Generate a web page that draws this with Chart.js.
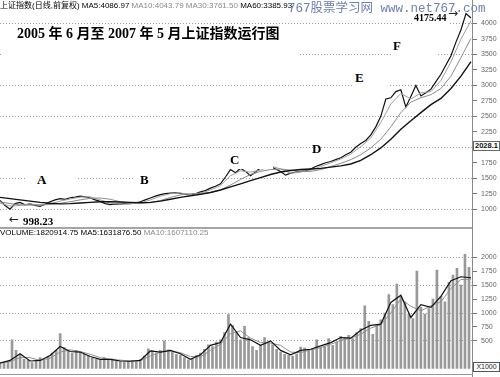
<!DOCTYPE html>
<html><head><meta charset="utf-8">
<script src="https://cdn.jsdelivr.net/npm/chart.js@4.4.0/dist/chart.umd.min.js"></script>
<style>
html,body{margin:0;padding:0;background:#fff;}
#wrap{position:relative;width:500px;height:377px;overflow:hidden;background:#fff;}
.t{position:absolute;white-space:nowrap;}
.hdr{font-family:"Liberation Sans","Noto Sans CJK SC",sans-serif;font-size:8px;line-height:10px;}
.lbl{position:absolute;background:#fff;font-family:"Liberation Serif","Noto Sans CJK SC",serif;font-weight:bold;font-size:13px;line-height:13px;color:#000;}
.ln{position:absolute;}
</style></head>
<body><div id="wrap">
<div style="position:absolute;left:0;top:0;width:500px;height:228px"><canvas id="c1"></canvas></div>
<div style="position:absolute;left:0;top:228px;width:500px;height:149px"><canvas id="c2"></canvas></div>

<div class="ln" style="left:472px;top:0;width:1px;height:377px;background:#8a8a8a"></div>
<div class="ln" style="left:0;top:227px;width:472px;height:2px;background:#a5a5a5"></div>
<div class="ln" style="left:0;top:374px;width:472px;height:1px;background:#999"></div>

<div class="t hdr" style="left:0;top:1px;color:#000">上证指数(日线,前复权) MA5:4086.97 <span style="color:#8a8a8a">MA10:4043.79 MA30:3761.50</span> MA60:3385.93</div>
<div class="t" style="left:288px;top:2px;font-family:'Liberation Mono','Noto Sans CJK SC',monospace;font-size:12.5px;line-height:14px;color:#6f80b8">767股票学习网 www.net767.com</div>

<div class="lbl" style="left:3px;top:26px;width:283px;height:32px;padding-left:14px;font-size:14px;line-height:16px;">2005 年 6 月至 2007 年 5 月上证指数运行图</div>

<div class="lbl" style="left:27px;top:170px;width:41px;height:19px;padding-left:10px;padding-top:3px;">A</div>
<div class="lbl" style="left:133px;top:170px;width:42px;height:19px;padding-left:7px;padding-top:3px;">B</div>
<div class="lbl" style="left:223px;top:148px;width:43px;height:16px;padding-left:7px;padding-top:5px;">C</div>
<div class="lbl" style="left:312px;top:142px;background:transparent">D</div>
<div class="lbl" style="left:353px;top:68px;width:35px;height:19px;padding-left:2px;padding-top:3px;">E</div>
<div class="lbl" style="left:392px;top:36px;width:44px;height:19px;padding-left:1px;padding-top:3px;">F</div>

<div class="lbl" style="left:412px;top:12px;width:36px;height:13px;font-size:10px;line-height:12px;padding-left:2px">4175.44</div>
<div class="t" style="left:448px;top:6px;font-size:12px;line-height:14px;font-family:'DejaVu Sans';color:#222">→</div>
<div class="t" style="left:9px;top:212px;font-size:12px;line-height:14px;font-family:'DejaVu Sans';color:#222">←</div>
<div class="t" style="left:23px;top:215px;font-family:'Liberation Serif';font-weight:bold;font-size:11px;line-height:12px;color:#000">998.23</div>

<div class="t" style="left:473px;top:141px;width:25px;height:8px;border:1px solid #666;background:#fff;font-family:'Liberation Sans';font-weight:bold;font-size:7.5px;line-height:8px;text-align:center;color:#111">2028.1</div>

<div class="t hdr" style="left:0;top:228px;color:#000">VOLUME:1820914.75 MA5:1631876.50 <span style="color:#8a8a8a">MA10:1607110.25</span></div>
<div class="t" style="left:473px;top:362px;width:25px;height:8px;border:1px solid #555;background:#fff;font-family:'Liberation Sans';font-size:7px;line-height:8px;text-align:center;color:#222">X1000</div>
</div>
<script>
// ---- data ----
const price = [1140,1060,1000,1090,1110,1070,1085,1060,1045,1080,
 1120,1150,1170,1160,1185,1195,1210,1200,1180,1150,
 1125,1090,1075,1085,1080,1095,1090,1100,1120,1150,
 1180,1210,1235,1250,1260,1265,1255,1240,1225,1250,
 1280,1300,1340,1370,1410,1520,1640,1590,1660,1610,
 1540,1600,1670,1730,1690,1650,1610,1550,1580,1600,
 1610,1620,1650,1690,1720,1750,1770,1800,1830,1880,
 1920,2000,2060,2110,2200,2330,2500,2780,2800,2900,
 2930,2650,2820,3000,2830,2880,2940,3060,3180,3330,
 3480,3700,3900,4160,4090];
const ma10 = [1100,1050,1060,1085,1065,1080,1130,1165,1195,1200,
 1150,1100,1080,1088,1100,1150,1210,1250,1260,1240,
 1260,1310,1380,1540,1620,1600,1630,1700,1650,1580,
 1600,1630,1690,1750,1810,1890,2010,2150,2400,2700,
 2870,2780,2880,2900,3080,3380,3750,4044];
const ma30 = [1120,1090,1070,1065,1070,1075,1095,1120,1150,1175,
 1180,1160,1120,1095,1090,1105,1140,1190,1230,1250,
 1255,1270,1310,1390,1480,1560,1610,1640,1650,1630,
 1610,1610,1640,1690,1740,1800,1880,1990,2130,2330,
 2560,2730,2800,2850,2950,3150,3450,3761];
const ma60 = [1190,1170,1150,1130,1110,1095,1085,1090,1100,1110,
 1120,1120,1115,1110,1105,1110,1130,1160,1190,1215,
 1240,1270,1310,1360,1410,1460,1510,1560,1600,1625,
 1640,1650,1660,1680,1700,1730,1790,1880,1990,2130,
 2290,2430,2560,2690,2790,2950,3150,3386];
const volume = [90,110,130,520,330,260,170,150,110,140,
 200,160,230,280,330,630,380,320,280,330,
 290,260,230,190,170,160,200,150,180,140,
 130,120,140,150,130,170,230,360,320,280,
 330,500,340,300,260,240,200,160,180,240,
 280,350,430,400,480,520,650,970,780,650,
 520,760,560,400,330,420,560,480,430,350,
 300,260,240,230,270,390,370,330,360,520,
 380,400,540,420,480,580,560,600,540,650,
 720,1130,850,620,780,880,1000,1330,1150,1520,
 1300,1200,980,900,1750,1100,980,1080,1250,1770,
 1300,1200,1550,1680,1800,1500,2050,1821];
const volMa5 = [100,150,270,140,150,240,400,310,300,220,
 170,170,140,135,150,320,300,330,270,170,
 250,420,470,800,560,520,420,500,330,250,
 330,350,410,470,560,550,690,780,800,1190,
 1320,920,1150,1100,1300,1580,1650,1632];
const volMa10 = [110,130,200,200,150,190,300,340,310,260,
 200,170,155,140,145,230,300,320,290,220,
 215,330,440,630,680,550,470,460,420,300,
 290,340,380,440,510,550,620,730,790,1000,
 1250,1120,1040,1130,1200,1440,1600,1607];
const priceTicks = [1000,1250,1500,1750,2000,2250,2500,2750,3000,3250,3500,3750,4000];
const volTicks = [500,750,1000,1250,1500,1750,2000];

const PRICE_STEP = 5, MA_STEP = 10, VOL_STEP = 4;
const xy = (arr, step) => arr.map((v, i) => ({x: i * step, y: v}));

const gridColor = c => (c.tick && c.tick.value % 500 === 0) ? '#9c9c9c' : 'rgba(0,0,0,0)';
const yAxis = (min, max, ticks) => ({
  position: 'right', min, max,
  afterBuildTicks: s => { s.ticks = ticks.map(v => ({value: v})); },
  afterFit: s => { s.width = 28; },
  ticks: {font: {size: 7, family: 'Liberation Sans'}, color: '#666', padding: 4, autoSkip: false,
          callback: v => String(v)},
  grid: {color: gridColor, tickColor: '#777', tickLength: 5, lineWidth: 1},
  border: {display: false, dash: [1, 2]}
});
const xAxis = {type: 'linear', min: 0, max: 471, display: false, offset: false};
const common = {
  animation: false, responsive: true, maintainAspectRatio: false,
  elements: {point: {radius: 0}, line: {tension: 0}},
  plugins: {legend: {display: false}, tooltip: {enabled: false}}
};

new Chart(document.getElementById('c1'), {
  type: 'line',
  data: {datasets: [
    {data: xy(ma60, MA_STEP), borderColor: '#111', borderWidth: 1.4},
    {data: xy(ma30, MA_STEP), borderColor: '#8c8c8c', borderWidth: 1},
    {data: xy(ma10, MA_STEP), borderColor: '#a0a0a0', borderWidth: 1},
    {data: xy(price, PRICE_STEP), borderColor: '#111', borderWidth: 1.2}
  ]},
  options: Object.assign({}, common, {
    layout: {padding: {top: 10, bottom: 1, left: 0, right: 0}},
    scales: {x: xAxis, y: yAxis(828.125, 4218.75, priceTicks)}
  })
});

new Chart(document.getElementById('c2'), {
  type: 'bar',
  data: {datasets: [
    {type: 'line', data: xy(volMa5, MA_STEP), borderColor: '#111', borderWidth: 1.2, order: 0},
    {type: 'line', data: xy(volMa10, MA_STEP), borderColor: '#8f8f8f', borderWidth: 1, order: 1},
    {type: 'bar', data: xy(volume, VOL_STEP), backgroundColor: '#999999', barThickness: 2, order: 2}
  ]},
  options: Object.assign({}, common, {
    layout: {padding: {top: 1, bottom: 3, left: 0, right: 0}},
    scales: {x: xAxis, y: yAxis(0, 2377, volTicks)}
  })
});
</script>
</body></html>
